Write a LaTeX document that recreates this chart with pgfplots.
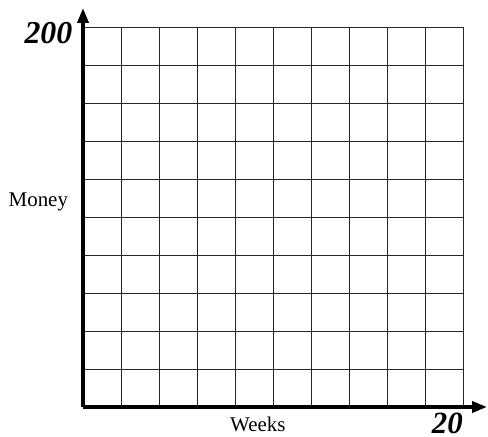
\documentclass[border=0pt]{standalone}
\usepackage{fontspec}
\setmainfont{Liberation Serif}
\usepackage{pgfplots}
\pgfplotsset{compat=1.18}
\usetikzlibrary{arrows.meta}
\begin{document}
\begin{tikzpicture}[x=1bp,y=1bp]
\useasboundingbox (-83,-30) rectangle (405,407);
\begin{axis}[
  at={(0,0)}, anchor=south west,
  scale only axis, width=380bp, height=380bp,
  xmin=0, xmax=20, ymin=0, ymax=200,
  xtick={0,2,...,20}, ytick={0,20,...,200},
  xticklabels={}, yticklabels={},
  major tick length=0pt,
  grid=major,
  grid style={black!85, line width=0.9pt},
  axis lines=left,
  x axis line style={line width=3.6pt, -{Triangle[length=15bp,width=11bp]}, shorten >=-24bp},
  y axis line style={line width=3.6pt, -{Triangle[length=15bp,width=11bp]}, shorten >=-19bp},
  clip=false,
]
\addplot[draw=none, forget plot] coordinates {(0,0) (20,200)};
% axis end values
\node[anchor=east, inner sep=0pt, font=\fontsize{32}{32}\selectfont\bfseries\itshape]
  at (axis cs:-0.55,197) {200};
\node[anchor=south east, inner sep=0pt, font=\fontsize{31}{31}\selectfont\bfseries\itshape]
  at (axis cs:20.0,-14.0) {20};
% axis titles
\node[font=\fontsize{21}{21}\selectfont] at (axis cs:-2.35,108) {Money};
\node[font=\fontsize{21}{21}\selectfont] at (axis cs:9.2,-9.3) {Weeks};
\end{axis}
\end{tikzpicture}
\end{document}
